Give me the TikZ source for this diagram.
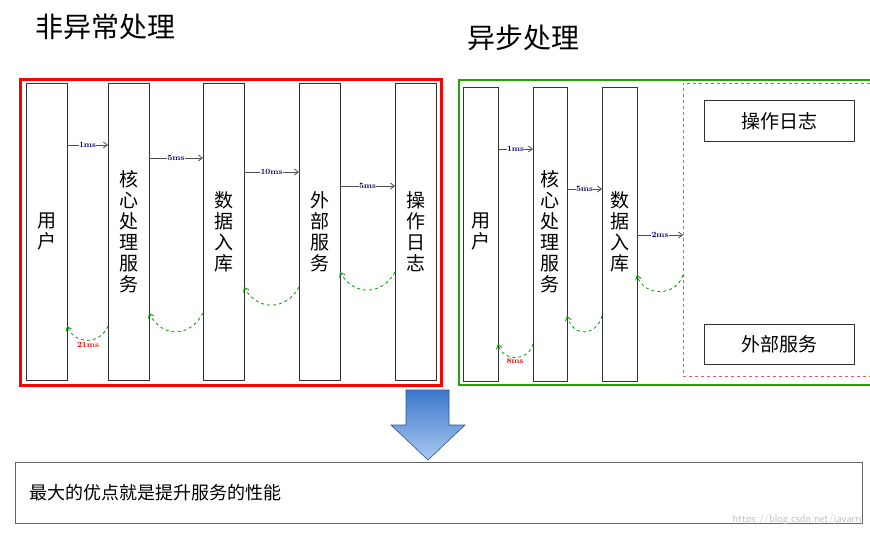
\documentclass[tikz,border=0pt]{standalone}
\usepackage{fontspec}
\newfontfamily\cjk{Noto Sans CJK SC}
\usetikzlibrary{arrows.meta}
\definecolor{skyA}{RGB}{170,200,240}
\definecolor{skyB}{RGB}{60,120,205}
\begin{document}
\begin{tikzpicture}[x=1pt,y=-1pt,
 bar/.style={draw=black!80,line width=1pt,fill=white,inner sep=0pt},
 bt/.style={font=\cjk\fontsize{19}{21}\selectfont,align=center,inner sep=0pt},
 fwd/.style={draw=black!70,line width=0.8pt,-{Straight Barb[length=4pt,width=6pt]}},
 lab/.style={font=\fontsize{8}{9}\selectfont\bfseries,fill=white,inner sep=0.5pt,text=blue!40!black},
 ret/.style={draw=green!60!black,dashed,line width=0.8pt,-{Straight Barb[length=4pt,width=6pt]}},
 rlab/.style={font=\fontsize{8}{9}\selectfont\bfseries,text=red}]
\useasboundingbox (0,0) rectangle (870,537);
\fill[white] (0,0) rectangle (870,537);
\node[font=\cjk\fontsize{28}{30}\selectfont,anchor=west] (t1) at (32,27) {非异常处理};
\node[font=\cjk\fontsize{28}{30}\selectfont,anchor=west] (t2) at (464,38) {异步处理};
% left frame
\draw[red,line width=3pt] (20,80) rectangle (441,385);
\foreach \n/\a/\b/\t in {u1/26/67/用\\户, c1/108/149/核\\心\\处\\理\\服\\务, d1/203/244/数\\据\\入\\库, e1/299/340/外\\部\\服\\务, o1/395/436/操\\作\\日\\志}{
  \draw[bar] (\a,84) rectangle (\b,380);
  \node[bt] (\n) at ({(\a+\b)/2},232) {\t};
}
\coordinate (a1) at (67,145); \coordinate (a2) at (108,145);
\draw[fwd] (a1) -- node[lab]{1ms} (a2);
\coordinate (b1) at (149,158); \coordinate (b2) at (203,158);
\draw[fwd] (b1) -- node[lab]{5ms} (b2);
\coordinate (c1a) at (244,172); \coordinate (c2a) at (299,172);
\draw[fwd] (c1a) -- node[lab]{10ms} (c2a);
\coordinate (d1a) at (340,186); \coordinate (d2a) at (395,186);
\draw[fwd] (d1a) -- node[lab]{5ms} (d2a);
\coordinate (r1s) at (108,326); \coordinate (r1e) at (67,326);
\draw[ret] (r1s) .. controls (100,345) and (75,345) .. (r1e);
\node[rlab] (l21) at (88,345) {21ms};
\coordinate (r2s) at (203,313); \coordinate (r2e) at (149,313);
\draw[ret] (r2s) .. controls (190,338) and (162,338) .. (r2e);
\coordinate (r3s) at (299,287); \coordinate (r3e) at (244,287);
\draw[ret] (r3s) .. controls (286,311) and (257,311) .. (r3e);
\coordinate (r4s) at (395,272); \coordinate (r4e) at (340,272);
\draw[ret] (r4s) .. controls (382,296) and (353,296) .. (r4e);
% right frame
\draw[green!55!black!80!lime,line width=2.5pt] (870,80) -- (459,80) -- (459,385) -- (870,385);
\foreach \n/\a/\b/\t in {u2/463/498/用\\户, c2/533/567/核\\心\\处\\理\\服\\务, d2/602/637/数\\据\\入\\库}{
  \draw[bar] (\a,88) rectangle (\b,381);
  \node[bt] (\n) at ({(\a+\b)/2},232) {\t};
}
\draw[red!70,dashed,line width=0.6pt] (870,83) -- (683,83) -- (683,376) -- (870,376);
\node[draw=black!80,line width=1pt,minimum width=150pt,minimum height=41pt,font=\cjk\fontsize{19}{21}\selectfont] (op) at (779,121.5) {操作日志};
\node[draw=black!80,line width=1pt,minimum width=150pt,minimum height=40pt,font=\cjk\fontsize{19}{21}\selectfont] (ex) at (779,344) {外部服务};
\coordinate (p1) at (498,149); \coordinate (p2) at (533,149);
\draw[fwd] (p1) -- node[lab]{1ms} (p2);
\coordinate (q1) at (567,189); \coordinate (q2) at (602,189);
\draw[fwd] (q1) -- node[lab]{5ms} (q2);
\coordinate (s1) at (637,235); \coordinate (s2) at (683,235);
\draw[fwd] (s1) -- node[lab]{2ms} (s2);
\coordinate (w1s) at (533,344); \coordinate (w1e) at (498,344);
\draw[ret] (w1s) .. controls (528,362) and (503,362) .. (w1e);
\node[rlab] (l8) at (515,361) {8ms};
\coordinate (w2s) at (602,316); \coordinate (w2e) at (567,316);
\draw[ret] (w2s) .. controls (596,337) and (573,337) .. (w2e);
\coordinate (w3s) at (683,275); \coordinate (w3e) at (637,275);
\draw[ret] (w3s) .. controls (676,297) and (644,297) .. (w3e);
% down arrow
\path[draw=skyB!70!black,line width=0.6pt,top color=skyB,bottom color=skyA,shading angle=0]
  (406,390) -- (449,390) -- (449,425) -- (465,425) -- (428,460) -- (391,425) -- (406,425) -- cycle;
% bottom box
\node[draw=black!60,line width=0.6pt,minimum width=847pt,minimum height=61pt,anchor=north west,fill=white] (bx) at (15,462) {};
\node[font=\cjk\fontsize{18}{20}\selectfont,anchor=west] (bt) at (26,493) {最大的优点就是提升服务的性能};
\node[font=\fontsize{11}{12}\selectfont\sffamily,text=black!25,anchor=east] (wm) at (866,520) {https://blog.csdn.net/javarrr};
\end{tikzpicture}
\end{document}
